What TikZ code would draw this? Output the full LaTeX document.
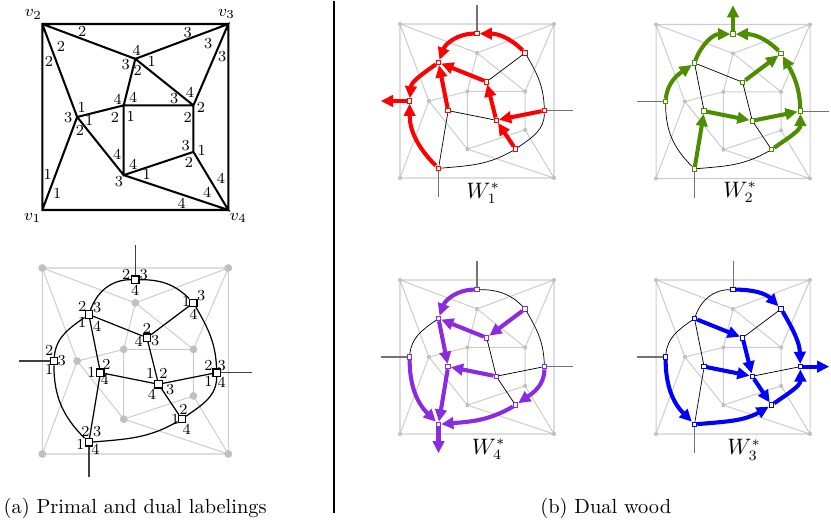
\documentclass[tikz,border=0pt]{standalone}
\usetikzlibrary{arrows.meta}
\definecolor{primgrey}{RGB}{205,205,205}
\definecolor{dotgrey}{RGB}{192,192,192}
\definecolor{wred}{RGB}{255,0,0}
\definecolor{wgreen}{RGB}{76,142,0}
\definecolor{wpurple}{RGB}{138,43,226}
\definecolor{wblue}{RGB}{0,0,255}
% dual edges (prefix as argument)
\newcommand{\EdA}[1]{(#1T) to[out=180,in=70] (#1UL)}
\newcommand{\EdB}[1]{(#1UL) to[out=215,in=85] (#1L)}
\newcommand{\EdC}[1]{(#1L) to[out=270,in=135] (#1BL)}
\newcommand{\EdD}[1]{(#1BL) to[out=5,in=210] (#1BR)}
\newcommand{\EdE}[1]{(#1BR) to[out=35,in=270] (#1R)}
\newcommand{\EdF}[1]{(#1R) to[out=92,in=300] (#1TR)}
\newcommand{\EdG}[1]{(#1TR) to[out=135,in=0] (#1T)}
\newcommand{\EdH}[1]{(#1UL) -- (#1CU)}
\newcommand{\EdI}[1]{(#1UL) -- (#1CL)}
\newcommand{\EdJ}[1]{(#1TR) -- (#1CU)}
\newcommand{\EdK}[1]{(#1CU) -- (#1CC)}
\newcommand{\EdL}[1]{(#1CL) -- (#1CC)}
\newcommand{\EdM}[1]{(#1CL) -- (#1BL)}
\newcommand{\EdN}[1]{(#1CC) -- (#1R)}
\newcommand{\EdO}[1]{(#1CC) -- (#1BR)}
\newcommand{\LgT}[1]{(#1T) -- (#1Tl)}
\newcommand{\LgL}[1]{(#1L) -- (#1Ll)}
\newcommand{\LgR}[1]{(#1R) -- (#1Rl)}
\newcommand{\LgB}[1]{(#1BL) -- (#1Bl)}
\newcommand{\primcoords}[1]{%
  \foreach \n/\x/\y in {v1/0/0,v2/0/8,v3/8/8,v4/8/0,A/4/6.5,B/1.5/4,C/3.5/4.5,D/6.5/4.5,E/6.5/2.5,F/3.5/1.5}
    {\coordinate (#1\n) at (\x,\y);}%
}
\newcommand{\primedges}[1]{(#1v1) -- (#1v2) -- (#1v3) -- (#1v4) -- cycle
    (#1v2) -- (#1A) -- (#1v3) -- (#1D) -- (#1A) -- (#1C) -- (#1B) -- (#1v2)
    (#1v1) -- (#1B) -- (#1F) -- (#1v4) -- (#1E) -- (#1D) -- (#1C) -- (#1F) -- (#1E)}
\newcommand{\greyprimal}[2]{%
  \primcoords{#1}%
  \draw[pg] \primedges{#1};
  \foreach \n in {v1,v2,v3,v4,A,B,C,D,E,F} {\fill[dotgrey] (#1\n) circle[radius=#2];}%
}
\newcommand{\dualnodes}[2]{%
  \foreach \n/\x/\y in {T/4/7.5,TR/6.5/6.5,UL/2/6,CU/4.5/5,L/0.5/4,CL/2.5/3.5,CC/5/3,R/7.5/3.5,BR/6/1.5,BL/2/0.5}
    {\node[#2] (#1\n) at (\x,\y) {};}%
  \coordinate (#1Tl) at (4,9);
  \coordinate (#1Ll) at (-1,4);
  \coordinate (#1Rl) at (9,3.5);
  \coordinate (#1Bl) at (2,-1);
}
\begin{document}
\begin{tikzpicture}[x=0.49pt,y=-0.49pt,
  primal/.style={line width=1pt, line join=miter},
  pg/.style={draw=primgrey, line width=0.5pt},
  dualsq/.style={draw=black, fill=white, rectangle, minimum size=3.6pt, inner sep=0pt, line width=0.6pt},
  wsq/.style={draw=#1, fill=white, rectangle, minimum size=2.2pt, inner sep=0pt, line width=0.45pt},
  dl/.style={line width=0.6pt, black},
  dleg/.style={line width=0.7pt, black!75},
  thinb/.style={line width=0.35pt, black},
  legg/.style={line width=0.5pt, black!55},
  wood/.style={draw=#1, line width=2pt},
  fw/.style={-{Triangle[length=6pt,width=5.6pt]}},
  bw/.style={{Triangle[length=6pt,width=5.6pt]}-},
  lab/.style={font=\fontsize{7.5}{8}\selectfont, inner sep=0pt},
  vlab/.style={font=\fontsize{8.5}{10}\selectfont, inner sep=0pt},
  wlab/.style={font=\fontsize{10.5}{12}\selectfont, inner sep=0pt, anchor=base west},
  captext/.style={font=\fontsize{10}{12}\selectfont, inner sep=0pt, anchor=base west}]
\useasboundingbox (0,0) rectangle (831,520);

% ---------- (a) primal ----------
\begin{scope}[shift={(42.3,210)}, x=11.3925pt, y=11.3925pt]
  \primcoords{p}
  \draw[primal] \primedges{p};
\end{scope}
\node[vlab] (nv2) at (33.3,14.5) {$v_2$};
\node[vlab] (nv3) at (226.5,14) {$v_3$};
\node[vlab] (nv1) at (32.7,218.3) {$v_1$};
\node[vlab] (nv4) at (238.3,218.3) {$v_4$};
\foreach \x/\y/\t [count=\i] in {82.3/31.7/2, 187.7/32.3/3, 61/46.7/2, 208.3/43.3/3, 49/61/2, 222.3/56.7/3,
  136.7/50.7/4, 125.7/64.3/3, 151.7/61.7/1, 137.7/70.7/2, 133.3/97.3/4, 117.7/99/4, 174.3/99/3, 190/92/4,
  201/107.3/2, 81.7/107.3/1, 68.3/117.3/3, 89.3/120/1, 80/130.7/2, 115/117.3/2, 130.7/116/1, 187.7/117.3/2,
  185.7/145.3/3, 201.7/150.7/1, 189/162.7/2, 117.3/154.3/4, 133.3/164/4, 146.7/174/1, 119/181.7/3,
  221/178.3/4, 207.3/192.7/4, 181.7/203.3/4, 47.7/174/1, 57.3/193.3/1}
  {\node[lab] (pl\i) at (\x,\y) {\t};}

% ---------- (a) dual labeling ----------
\begin{scope}[shift={(42.3,454)}, x=11.3925pt, y=11.3925pt]
  \greyprimal{a}{1.9pt}
  \dualnodes{a}{dualsq}
  \draw[dl] \EdA{a} \EdB{a} \EdC{a} \EdD{a} \EdE{a} \EdF{a} \EdG{a}
    \EdH{a} \EdI{a} \EdJ{a} \EdK{a} \EdL{a} \EdM{a} \EdN{a} \EdO{a};
  \draw[dleg] \LgT{a} \LgL{a} \LgR{a} \LgB{a};
\end{scope}
\foreach \x/\y/\t [count=\i] in {126.3/274.6/2, 143.6/274.6/3, 135.3/290.6/4,
  186.1/301.9/1, 201.1/295.2/3, 193.4/314.2/4,
  82.1/306.2/2, 97.1/307.8/3, 82.1/322.8/1, 97.1/326.2/4,
  146.9/328.75/2, 138.6/341/4, 155.2/341/3,
  49.2/350/2, 61.6/361/3, 49.2/369.3/1,
  91.4/372.6/1, 106.4/364.3/2, 104.7/379.3/4,
  150.2/373.25/1, 163.55/373.25/2, 151.85/394.25/4, 170.25/389.25/3,
  208.4/365.9/2, 221.7/365.9/3, 208.4/381.9/1, 221.7/381.9/4,
  175.1/419.1/1, 183.5/409.1/2, 186.8/429.1/4,
  85.5/431.4/2, 97.1/431.4/3, 80.5/444.7/1, 95.5/449.7/4}
  {\node[lab] (dlab\i) at (\x,\y) {\t};}

% ---------- W1 (red) ----------
\begin{scope}[shift={(400,178)}, x=9.4325pt, y=9.4325pt]
  \greyprimal{b}{1pt}
  \dualnodes{b}{wsq=wred}
  \draw[thinb] \EdJ{b} \EdF{b} \EdL{b} \EdM{b} \EdD{b} \EdE{b};
  \draw[legg] \LgT{b} \LgR{b} \LgB{b};
  \draw[wood=wred,fw] \EdG{b};
  \draw[wood=wred,fw] \EdA{b};
  \draw[wood=wred,fw] \EdB{b};
  \draw[wood=wred,fw] \LgL{b};
  \draw[wood=wred,bw] \EdH{b};
  \draw[wood=wred,bw] \EdI{b};
  \draw[wood=wred,bw] \EdC{b};
  \draw[wood=wred,bw] \EdK{b};
  \draw[wood=wred,bw] \EdN{b};
  \draw[wood=wred,bw] \EdO{b};
\end{scope}
\node[wlab] (w1) at (466,198) {$W_1^*$};

% ---------- W2 (green) ----------
\begin{scope}[shift={(656,178.5)}, x=9.4325pt, y=9.4325pt]
  \greyprimal{c}{1pt}
  \dualnodes{c}{wsq=wgreen}
  \draw[thinb] \EdH{c} \EdI{c} \EdK{c} \EdC{c} \EdO{c} \EdD{c};
  \draw[legg] \LgL{c} \LgR{c} \LgB{c};
  \draw[wood=wgreen,fw] \LgT{c};
  \draw[wood=wgreen,fw] \EdG{c};
  \draw[wood=wgreen,fw] \EdF{c};
  \draw[wood=wgreen,fw] \EdL{c};
  \draw[wood=wgreen,fw] \EdN{c};
  \draw[wood=wgreen,fw] \EdE{c};
  \draw[wood=wgreen,bw] \EdA{c};
  \draw[wood=wgreen,bw] \EdB{c};
  \draw[wood=wgreen,bw] \EdJ{c};
  \draw[wood=wgreen,bw] \EdM{c};
\end{scope}
\node[wlab] (w2) at (723,197) {$W_2^*$};

% ---------- W4 (purple) ----------
\begin{scope}[shift={(400,434)}, x=9.4325pt, y=9.4325pt]
  \greyprimal{d}{1pt}
  \dualnodes{d}{wsq=wpurple}
  \draw[thinb] \EdG{d} \EdB{d} \EdF{d} \EdK{d} \EdN{d} \EdO{d};
  \draw[legg] \LgT{d} \LgL{d} \LgR{d};
  \draw[wood=wpurple,fw] \EdA{d};
  \draw[wood=wpurple,fw] \EdJ{d};
  \draw[wood=wpurple,fw] \EdI{d};
  \draw[wood=wpurple,fw] \EdM{d};
  \draw[wood=wpurple,fw] \EdC{d};
  \draw[wood=wpurple,fw] \LgB{d};
  \draw[wood=wpurple,bw] \EdH{d};
  \draw[wood=wpurple,bw] \EdL{d};
  \draw[wood=wpurple,bw] \EdE{d};
  \draw[wood=wpurple,bw] \EdD{d};
\end{scope}
\node[wlab] (w4) at (471.5,454) {$W_4^*$};

% ---------- W3 (blue) ----------
\begin{scope}[shift={(656,434)}, x=9.4325pt, y=9.4325pt]
  \greyprimal{e}{1pt}
  \dualnodes{e}{wsq=wblue}
  \draw[thinb] \EdA{e} \EdB{e} \EdI{e} \EdJ{e} \EdM{e} \EdN{e};
  \draw[legg] \LgT{e} \LgL{e} \LgB{e};
  \draw[wood=wblue,fw] \LgR{e};
  \draw[wood=wblue,fw] \EdH{e};
  \draw[wood=wblue,fw] \EdK{e};
  \draw[wood=wblue,fw] \EdL{e};
  \draw[wood=wblue,fw] \EdO{e};
  \draw[wood=wblue,fw] \EdE{e};
  \draw[wood=wblue,fw] \EdD{e};
  \draw[wood=wblue,fw] \EdC{e};
  \draw[wood=wblue,bw] \EdG{e};
  \draw[wood=wblue,bw] \EdF{e};
\end{scope}
\node[wlab] (w3) at (727,454.5) {$W_3^*$};

% ---------- separator and captions ----------
\coordinate (septop) at (334.3,1);
\coordinate (sepbot) at (334.3,513);
\draw[line width=1pt] (septop) -- (sepbot);
\node[captext] (capa) at (3.3,513.3) {(a) Primal and dual labelings};
\node[captext] (capb) at (540,513.3) {(b) Dual wood};
\end{tikzpicture}
\end{document}
